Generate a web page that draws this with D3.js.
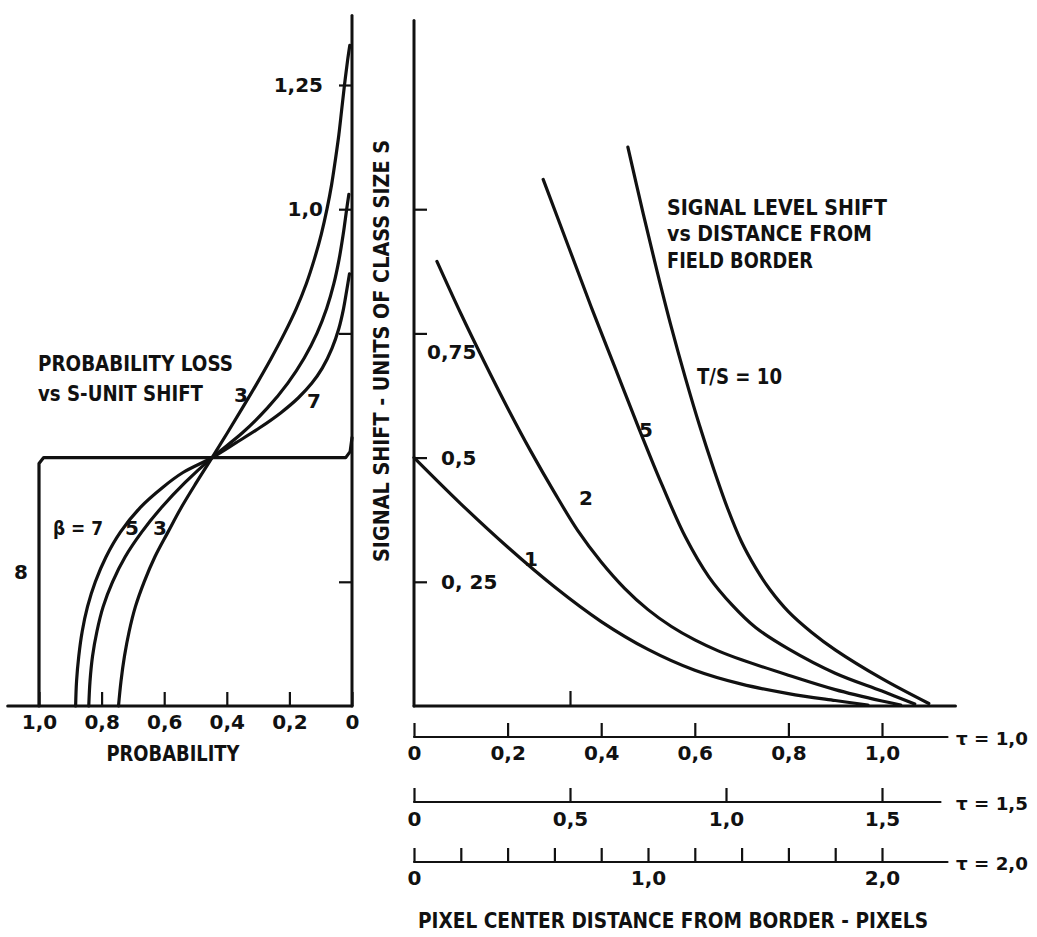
<!DOCTYPE html>
<html>
<head>
<meta charset="utf-8">
<script src="https://cdn.jsdelivr.net/npm/d3@7"></script>
<style>
body { margin: 0; background: #fff; }
svg text { font-family: "DejaVu Sans", sans-serif; font-weight: bold; fill: #111; }
</style>
</head>
<body>
<svg id="chart" width="1037" height="937"></svg>
<script>
// ---- left panel: probability loss vs S-unit shift, points are [probability, shift] ----
const beta3 = [[0.746, 0], [0.738, 0.05], [0.727, 0.1], [0.712, 0.15], [0.692, 0.2], [0.664, 0.25],
    [0.63, 0.3], [0.588, 0.35], [0.545, 0.4], [0.497, 0.45], [0.447, 0.5], [0.398, 0.55], [0.35, 0.6],
    [0.303, 0.65], [0.258, 0.7], [0.216, 0.75], [0.178, 0.8], [0.146, 0.85], [0.12, 0.9], [0.098, 0.95],
    [0.08, 1.0], [0.065, 1.05], [0.053, 1.1], [0.042, 1.15], [0.033, 1.2], [0.024, 1.25], [0.014, 1.3], [0.007, 1.33]];
const beta5 = [[0.841, 0], [0.837, 0.05], [0.829, 0.1], [0.815, 0.15], [0.795, 0.2], [0.765, 0.25],
    [0.725, 0.3], [0.672, 0.35], [0.608, 0.4], [0.533, 0.45], [0.447, 0.5], [0.35, 0.55], [0.27, 0.6],
    [0.205, 0.65], [0.153, 0.7], [0.112, 0.75], [0.081, 0.8], [0.058, 0.85], [0.041, 0.9], [0.028, 0.95],
    [0.017, 1.0], [0.01, 1.03]];
const beta7 = [[0.883, 0], [0.88, 0.05], [0.873, 0.1], [0.862, 0.15], [0.845, 0.2], [0.82, 0.25],
    [0.786, 0.3], [0.74, 0.35], [0.676, 0.4], [0.605, 0.44], [0.54, 0.47], [0.447, 0.5], [0.37, 0.53],
    [0.295, 0.56], [0.228, 0.59], [0.172, 0.62], [0.128, 0.65], [0.095, 0.68], [0.064, 0.72],
    [0.042, 0.76], [0.027, 0.8], [0.016, 0.84], [0.008, 0.87]];
const betaInf = [[1.0, 0], [1.0, 0.488], [0.985, 0.5], [0.02, 0.5], [0.006, 0.512], [0, 0.54]];

const probTicks = [1.0, 0.8, 0.6, 0.4, 0.2, 0];
const probLabels = ['1,0', '0,8', '0,6', '0,4', '0,2', '0'];
const leftShiftTicks = [0.25, 0.75, 1.0, 1.25];
const leftShiftLabels = ['', '', '1,0', '1,25'];

// ---- right panel: signal shift vs distance (distance in units of tau) ----
const ts1 = [[0, 0.5], [0.1, 0.407], [0.2, 0.32], [0.3, 0.24], [0.4, 0.17], [0.5, 0.114], [0.6, 0.072],
    [0.7, 0.044], [0.8, 0.025], [0.9, 0.011], [0.97, 0.002]];
const ts2 = [[0.049, 0.895], [0.1, 0.79], [0.15, 0.693], [0.2, 0.6], [0.25, 0.512], [0.3, 0.43],
    [0.35, 0.353], [0.4, 0.29], [0.45, 0.237], [0.5, 0.194], [0.55, 0.16], [0.6, 0.133], [0.65, 0.111],
    [0.7, 0.093], [0.8, 0.062], [0.9, 0.033], [1.0, 0.01], [1.04, 0.002]];
const ts5 = [[0.276, 1.06], [0.33, 0.925], [0.38, 0.8], [0.43, 0.68], [0.48, 0.56], [0.53, 0.445],
    [0.58, 0.34], [0.63, 0.26], [0.68, 0.203], [0.73, 0.158], [0.8, 0.115], [0.9, 0.066], [1.0, 0.03],
    [1.07, 0.004]];
const ts10 = [[0.457, 1.125], [0.49, 0.99], [0.52, 0.873], [0.55, 0.762], [0.58, 0.66], [0.61, 0.565],
    [0.64, 0.478], [0.67, 0.398], [0.7, 0.33], [0.73, 0.278], [0.76, 0.235], [0.8, 0.19],
    [0.85, 0.148], [0.9, 0.113], [1.0, 0.055], [1.1, 0.005]];

const rightShiftTicks = [0.25, 0.5, 0.75, 1.0];
const rightShiftLabels = ['0, 25', '0,5', '0,75', ''];

const tau1Ticks = [0, 0.2, 0.4, 0.6, 0.8, 1.0];
const tau1Labels = ['0', '0,2', '0,4', '0,6', '0,8', '1,0'];
const tau15Ticks = [0, 0.5, 1.0, 1.5];
const tau15Labels = ['0', '0,5', '1,0', '1,5'];
const tau2Ticks = [0, 0.2, 0.4, 0.6, 0.8, 1.0, 1.2, 1.4, 1.6, 1.8, 2.0];
const tau2Labels = ['0', '', '', '', '', '1,0', '', '', '', '', '2,0'];

const svg = d3.select('#chart');

const y = d3.scaleLinear().domain([0, 1.25]).range([706, 85]);
const xProb = d3.scaleLinear().domain([1, 0]).range([39, 352]);
const xDist = d3.scaleLinear().domain([0, 1]).range([414, 882]);

function curve(xs) {
    return d3.line().x(d => xs(d[0])).y(d => y(d[1])).curve(d3.curveCatmullRom.alpha(0.5));
}

function rule(x1, y1, x2, y2, w) {
    svg.append('line').attr('x1', x1).attr('y1', y1).attr('x2', x2).attr('y2', y2)
        .attr('stroke', '#111').attr('stroke-width', w).attr('stroke-linecap', 'round');
}

function styleAxis(g, size) {
    g.attr('font-family', null).attr('font-size', size);
    g.select('.domain').remove();
    g.selectAll('.tick line').attr('stroke', '#111').attr('stroke-width', 2.2);
}

function label(x, yy, str, size, len, anchor) {
    const t = svg.append('text').attr('x', x).attr('y', yy).attr('dy', '0.36em')
        .attr('font-size', size).attr('text-anchor', anchor || 'start').text(str);
    if (len) t.attr('textLength', len).attr('lengthAdjust', 'spacingAndGlyphs');
    return t;
}

// ---- left panel axes ----
rule(xProb(1.1), y(0), xProb(0), y(0), 3);
rule(xProb(0), y(0), xProb(0), y(1.39), 3);

svg.append('g').attr('transform', `translate(0,${y(0)})`)
    .call(d3.axisBottom(xProb).tickValues(probTicks).tickSize(-14).tickSizeOuter(0).tickPadding(9)
        .tickFormat((d, i) => probLabels[i]))
    .call(g => styleAxis(g, 20));

svg.append('g').attr('transform', `translate(${xProb(0)},0)`)
    .call(d3.axisLeft(y).tickValues(leftShiftTicks).tickSize(13).tickSizeOuter(0).tickPadding(16)
        .tickFormat((d, i) => leftShiftLabels[i]))
    .call(g => styleAxis(g, 20));

// probability curves
[betaInf, beta7, beta5, beta3].forEach((pts, i) => {
    svg.append('path').attr('d', (i === 0 ? d3.line().x(d => xProb(d[0])).y(d => y(d[1])) : curve(xProb))(pts))
        .attr('fill', 'none').attr('stroke', '#111').attr('stroke-width', 3.2)
        .attr('stroke-linejoin', 'round').attr('stroke-linecap', 'round');
});

label(38, 363, 'PROBABILITY LOSS', 21, 195);
label(38, 393, 'vs S-UNIT SHIFT', 21, 165);
label(241, 395, '3', 20, null, 'middle');
label(314, 401, '7', 20, null, 'middle');
label(53, 528, 'β = 7', 20, 50);
label(132, 528, '5', 20, null, 'middle');
label(160, 528, '3', 20, null, 'middle');
label(21, 572, '8', 20, null, 'middle');
label(173, 753, 'PROBABILITY', 21, 133, 'middle');

// ---- right panel axes ----
rule(xDist(0), y(0), xDist(0), y(1.38), 3);
rule(xDist(0), y(0), xDist(1.157), y(0), 3);

svg.append('g').attr('transform', `translate(0,${y(0)})`)
    .call(d3.axisBottom(xDist).tickValues([1 / 3]).tickSize(-15).tickSizeOuter(0).tickFormat(''))
    .call(g => styleAxis(g, 20));

svg.append('g').attr('transform', `translate(${xDist(0)},0)`)
    .call(d3.axisRight(y).tickValues(rightShiftTicks).tickSize(13).tickSizeOuter(0).tickPadding(14)
        .tickFormat((d, i) => rightShiftLabels[i]))
    .call(g => styleAxis(g, 20))
    .call(g => g.selectAll('.tick').filter(d => d === 0.75).select('text').attr('x', 13).attr('dy', '1.27em'));

[ts1, ts2, ts5, ts10].forEach(pts => {
    svg.append('path').attr('d', curve(xDist)(pts))
        .attr('fill', 'none').attr('stroke', '#111').attr('stroke-width', 3.2)
        .attr('stroke-linejoin', 'round').attr('stroke-linecap', 'round');
});

label(531, 559, '1', 20, null, 'middle');
label(586, 498, '2', 20, null, 'middle');
label(646, 430, '5', 20, null, 'middle');
label(697, 376, 'T/S = 10', 21, 85);
label(667, 207, 'SIGNAL LEVEL SHIFT', 21, 220);
label(667, 233, 'vs DISTANCE FROM', 21, 205);
label(667, 260, 'FIELD BORDER', 21, 146);

svg.append('text').attr('transform', 'translate(381,351) rotate(-90)').attr('dy', '0.36em')
    .attr('font-size', 21).attr('text-anchor', 'middle')
    .attr('textLength', 422).attr('lengthAdjust', 'spacingAndGlyphs')
    .text('SIGNAL SHIFT - UNITS OF CLASS SIZE S');

// ---- distance scales for three values of tau ----
const tauAxes = [
    { tau: 1.0, ticks: tau1Ticks, labels: tau1Labels, y: 737, pad: 9, end: 1.14, name: 'τ = 1,0' },
    { tau: 1.5, ticks: tau15Ticks, labels: tau15Labels, y: 802, pad: 10, end: 1.125, name: 'τ = 1,5' },
    { tau: 2.0, ticks: tau2Ticks, labels: tau2Labels, y: 862, pad: 9, end: 1.14, name: 'τ = 2,0' }
];

tauAxes.forEach(a => {
    const s = d3.scaleLinear().domain([0, a.tau]).range(xDist.range());
    rule(s(0), a.y, s(a.tau * a.end), a.y, 2.2);
    svg.append('g').attr('transform', `translate(0,${a.y})`)
        .call(d3.axisBottom(s).tickValues(a.ticks).tickSize(-14).tickSizeOuter(0).tickPadding(a.pad)
            .tickFormat((d, i) => a.labels[i]))
        .call(g => styleAxis(g, 20));
    label(956, a.y + 2, a.name, 18, 72);
});

label(418, 920, 'PIXEL CENTER DISTANCE FROM BORDER - PIXELS', 21, 510);
</script>
</body>
</html>
